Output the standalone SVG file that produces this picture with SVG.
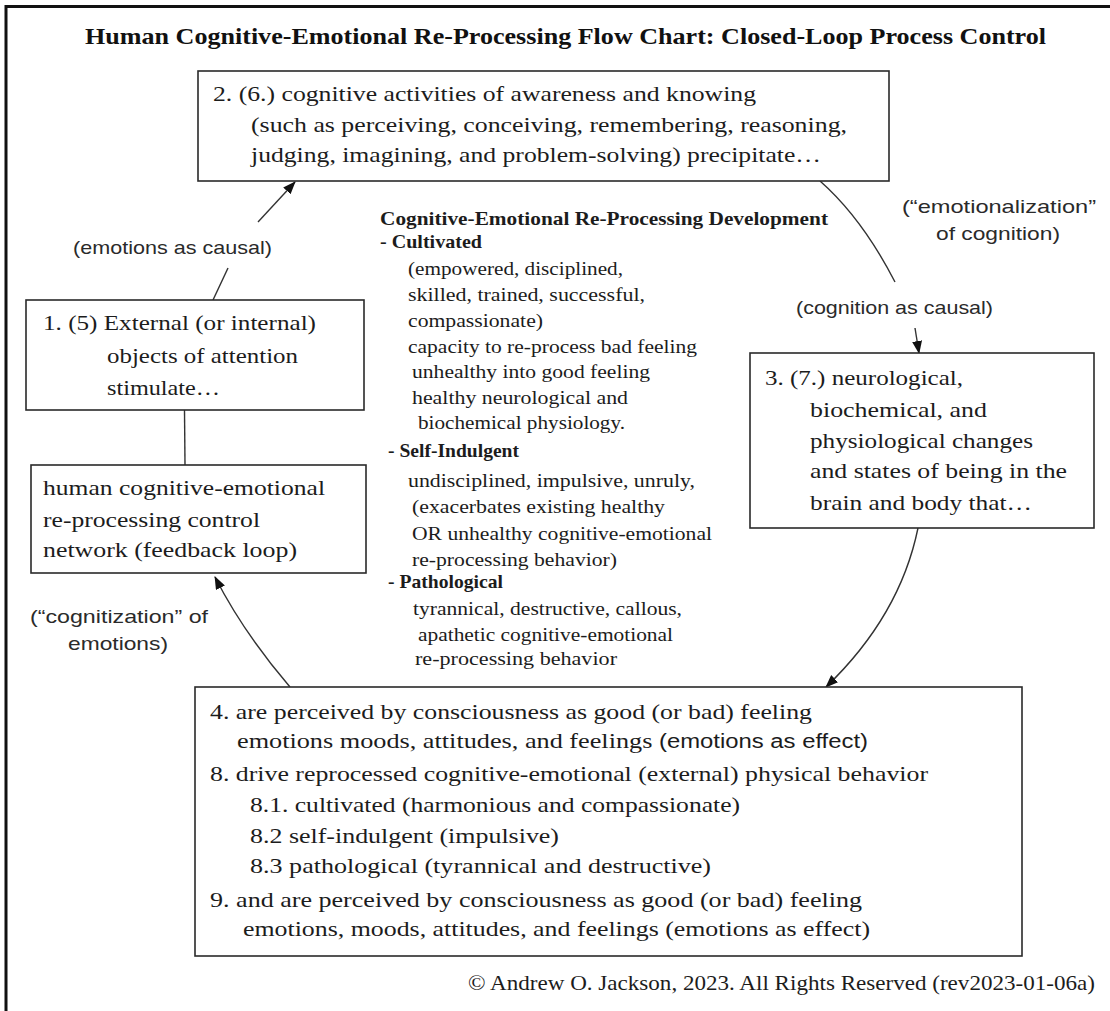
<svg xmlns="http://www.w3.org/2000/svg" width="1110" height="1011" viewBox="0 0 1110 1011">
<style>
.bg{fill:#ffffff}
.frame{fill:none;stroke:#111;stroke-width:3}
.box{fill:#ffffff;stroke:#2a2a2a;stroke-width:1.6}
.t{font-family:"Liberation Serif","Times New Roman",serif;fill:#1c1c1c}
.tb{font-size:22px}
.tc{font-size:19px}
.bold{font-weight:bold}
.title{font-family:"Liberation Serif","Times New Roman",serif;font-weight:bold;font-size:23px;fill:#111}
.lab{font-family:"Liberation Sans",Arial,sans-serif;font-size:19px;fill:#2a2a2a}
.conn{fill:none;stroke:#333;stroke-width:1.4}
</style>
<defs>
<marker id="ah" markerUnits="userSpaceOnUse" markerWidth="14" markerHeight="12" refX="12" refY="5" orient="auto">
<path d="M0,0 L13,5 L0,10 z" fill="#111"/>
</marker>
</defs>
<rect class="bg" x="0" y="0" width="1110" height="1011"/>
<path class="frame" d="M6,1011 V6.5 H1110"/>
<text class="title" x="85" y="44" textLength="961" lengthAdjust="spacingAndGlyphs">Human Cognitive-Emotional Re-Processing Flow Chart: Closed-Loop Process Control</text>

<g id="connectors">
<path class="conn" d="M213,300 L228,268"/>
<path class="conn" d="M258,222 L295,182" marker-end="url(#ah)"/>
<path class="conn" d="M820,181 Q862,218 895,282"/>
<path class="conn" d="M915,328 L919,353" marker-end="url(#ah)"/>
<path class="conn" d="M918,528 Q900,616 826,687" marker-end="url(#ah)"/>
<path class="conn" d="M290,687 Q243,632 215,577" marker-end="url(#ah)"/>
<path class="conn" d="M184.5,410 L185,465"/>
<text class="lab" x="73" y="254" textLength="199" lengthAdjust="spacingAndGlyphs">(emotions as causal)</text>
<text class="lab" x="902" y="213" textLength="194" lengthAdjust="spacingAndGlyphs">(“emotionalization”</text>
<text class="lab" x="936" y="240" textLength="124" lengthAdjust="spacingAndGlyphs">of cognition)</text>
<text class="lab" x="796" y="314" textLength="197" lengthAdjust="spacingAndGlyphs">(cognition as causal)</text>
<text class="lab" x="30" y="623" textLength="178" lengthAdjust="spacingAndGlyphs">(“cognitization” of</text>
<text class="lab" x="68" y="650" textLength="100" lengthAdjust="spacingAndGlyphs">emotions)</text>
</g>

<g id="node-2">
<rect class="box" x="198" y="71" width="691" height="110"/>
<text class="t tb" x="213" y="101" textLength="543" lengthAdjust="spacingAndGlyphs">2. (6.) cognitive activities of awareness and knowing</text>
<text class="t tb" x="251" y="132" textLength="596" lengthAdjust="spacingAndGlyphs">(such as perceiving, conceiving, remembering, reasoning,</text>
<text class="t tb" x="251" y="162" textLength="570" lengthAdjust="spacingAndGlyphs">judging, imagining, and problem-solving) precipitate…</text>
</g>

<g id="node-1">
<rect class="box" x="26" y="300" width="338" height="110"/>
<text class="t tb" x="43" y="330" textLength="273" lengthAdjust="spacingAndGlyphs">1. (5) External (or internal)</text>
<text class="t tb" x="107" y="363" textLength="191" lengthAdjust="spacingAndGlyphs">objects of attention</text>
<text class="t tb" x="107" y="395" textLength="113" lengthAdjust="spacingAndGlyphs">stimulate…</text>
</g>

<g id="node-network">
<rect class="box" x="31" y="465" width="335" height="108"/>
<text class="t tb" x="43" y="495" textLength="282" lengthAdjust="spacingAndGlyphs">human cognitive-emotional</text>
<text class="t tb" x="43" y="527" textLength="217" lengthAdjust="spacingAndGlyphs">re-processing control</text>
<text class="t tb" x="43" y="557" textLength="254" lengthAdjust="spacingAndGlyphs">network (feedback loop)</text>
</g>

<g id="node-3">
<rect class="box" x="750" y="353" width="344" height="175"/>
<text class="t tb" x="765" y="385" textLength="198" lengthAdjust="spacingAndGlyphs">3. (7.) neurological,</text>
<text class="t tb" x="810" y="417" textLength="177" lengthAdjust="spacingAndGlyphs">biochemical, and</text>
<text class="t tb" x="810" y="448" textLength="223" lengthAdjust="spacingAndGlyphs">physiological changes</text>
<text class="t tb" x="810" y="478" textLength="257" lengthAdjust="spacingAndGlyphs">and states of being in the</text>
<text class="t tb" x="810" y="510" textLength="222" lengthAdjust="spacingAndGlyphs">brain and body that…</text>
</g>

<g id="development-notes">
<text class="t tc bold" x="380" y="225" textLength="448" lengthAdjust="spacingAndGlyphs">Cognitive-Emotional Re-Processing Development</text>
<text class="t tc bold" x="380" y="248" textLength="102" lengthAdjust="spacingAndGlyphs">- Cultivated</text>
<text class="t tc" x="408" y="275" textLength="215" lengthAdjust="spacingAndGlyphs">(empowered, disciplined,</text>
<text class="t tc" x="408" y="301" textLength="237" lengthAdjust="spacingAndGlyphs">skilled, trained, successful,</text>
<text class="t tc" x="408" y="327" textLength="135" lengthAdjust="spacingAndGlyphs">compassionate)</text>
<text class="t tc" x="408" y="353" textLength="289" lengthAdjust="spacingAndGlyphs">capacity to re-process bad feeling</text>
<text class="t tc" x="412" y="378" textLength="238" lengthAdjust="spacingAndGlyphs">unhealthy into good feeling</text>
<text class="t tc" x="412" y="404" textLength="216" lengthAdjust="spacingAndGlyphs">healthy neurological and</text>
<text class="t tc" x="418" y="429" textLength="207" lengthAdjust="spacingAndGlyphs">biochemical physiology.</text>
<text class="t tc bold" x="388" y="457" textLength="131" lengthAdjust="spacingAndGlyphs">- Self-Indulgent</text>
<text class="t tc" x="408" y="487" textLength="287" lengthAdjust="spacingAndGlyphs">undisciplined, impulsive, unruly,</text>
<text class="t tc" x="412" y="513" textLength="253" lengthAdjust="spacingAndGlyphs">(exacerbates existing healthy</text>
<text class="t tc" x="412" y="540" textLength="300" lengthAdjust="spacingAndGlyphs">OR unhealthy cognitive-emotional</text>
<text class="t tc" x="412" y="566" textLength="205" lengthAdjust="spacingAndGlyphs">re-processing behavior)</text>
<text class="t tc bold" x="388" y="588" textLength="115" lengthAdjust="spacingAndGlyphs">- Pathological</text>
<text class="t tc" x="413" y="615" textLength="269" lengthAdjust="spacingAndGlyphs">tyrannical, destructive, callous,</text>
<text class="t tc" x="418" y="641" textLength="255" lengthAdjust="spacingAndGlyphs">apathetic cognitive-emotional</text>
<text class="t tc" x="415" y="665" textLength="202" lengthAdjust="spacingAndGlyphs">re-processing behavior</text>
</g>

<g id="node-4">
<rect class="box" x="195" y="687" width="827" height="269"/>
<text class="t tb" x="210" y="719" textLength="602" lengthAdjust="spacingAndGlyphs">4. are perceived by consciousness as good (or bad) feeling</text>
<text class="t tb" x="237" y="748" textLength="631" lengthAdjust="spacingAndGlyphs">emotions moods, attitudes, and feelings <tspan style="font-family:'Liberation Sans',Arial,sans-serif;font-size:20px">(emotions as effect)</tspan></text>
<text class="t tb" x="210" y="781" textLength="718" lengthAdjust="spacingAndGlyphs">8. drive reprocessed cognitive-emotional (external) physical behavior</text>
<text class="t tb" x="250" y="812" textLength="490" lengthAdjust="spacingAndGlyphs">8.1. cultivated (harmonious and compassionate)</text>
<text class="t tb" x="250" y="843" textLength="309" lengthAdjust="spacingAndGlyphs">8.2 self-indulgent (impulsive)</text>
<text class="t tb" x="250" y="873" textLength="461" lengthAdjust="spacingAndGlyphs">8.3 pathological (tyrannical and destructive)</text>
<text class="t tb" x="210" y="907" textLength="652" lengthAdjust="spacingAndGlyphs">9. and are perceived by consciousness as good (or bad) feeling</text>
<text class="t tb" x="243" y="936" textLength="627" lengthAdjust="spacingAndGlyphs">emotions, moods, attitudes, and feelings (emotions as effect)</text>
</g>

<text class="t tb" x="468" y="990" textLength="627" lengthAdjust="spacingAndGlyphs">© Andrew O. Jackson, 2023. All Rights Reserved (rev2023-01-06a)</text>
</svg>
